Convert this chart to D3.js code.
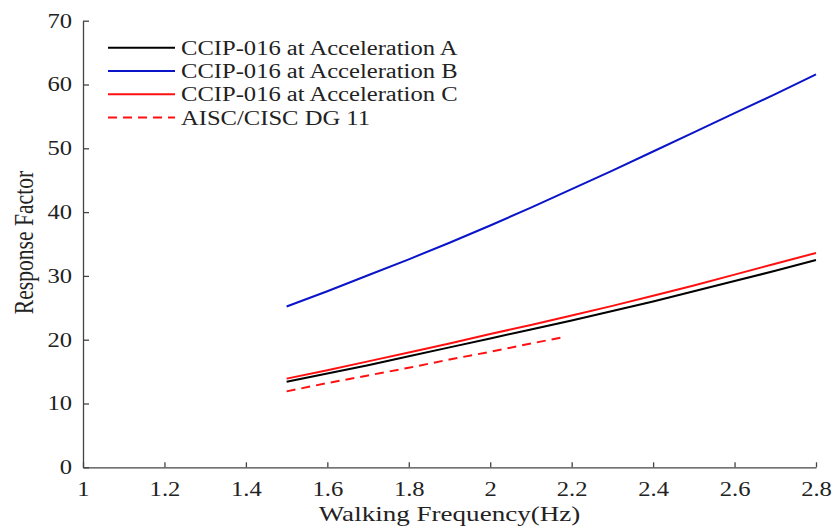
<!DOCTYPE html>
<html>
<head>
<meta charset="utf-8">
<script src="https://cdn.jsdelivr.net/npm/d3@7"></script>
<style>
  html, body { margin: 0; padding: 0; background: #fff; }
  svg { display: block; }
  text { font-family: "Liberation Serif", "Times New Roman", serif; fill: #222; }
</style>
</head>
<body>
<svg id="chart" width="835" height="527"></svg>
<script>
// ---- data ----
const freqs = [1.5, 1.6, 1.7, 1.8, 1.9, 2.0, 2.1, 2.2, 2.3, 2.4, 2.5, 2.6, 2.7, 2.8];
const accelA = [13.4, 14.7, 16.0, 17.4, 18.8, 20.2, 21.6, 23.0, 24.5, 26.0, 27.6, 29.2, 30.8, 32.5];
const accelB = [25.2, 27.6, 30.1, 32.6, 35.2, 37.9, 40.7, 43.6, 46.5, 49.5, 52.5, 55.5, 58.5, 61.6];
const accelC = [13.9, 15.2, 16.6, 18.0, 19.4, 20.9, 22.3, 23.8, 25.3, 26.9, 28.5, 30.2, 31.9, 33.6];
const dgFreqs = [1.5, 1.6, 1.7, 1.8, 1.9, 2.0, 2.1, 2.18];
const dg11 = [11.9, 13.2, 14.4, 15.6, 16.9, 18.1, 19.4, 20.4];
const seriesNames = ["CCIP-016 at Acceleration A", "CCIP-016 at Acceleration B", "CCIP-016 at Acceleration C", "AISC/CISC DG 11"];
const xTicks = [1, 1.2, 1.4, 1.6, 1.8, 2, 2.2, 2.4, 2.6, 2.8];
const yTicks = [0, 10, 20, 30, 40, 50, 60, 70];
const xTitle = "Walking Frequency(Hz)";
const yTitle = "Response Factor";

// ---- drawing ----
const svg = d3.select("#chart");
const x = d3.scaleLinear().domain([1, 2.8]).range([83, 816]);
const y = d3.scaleLinear().domain([0, 70]).range([467.3, 20.7]);
const sx = 1.23; // horizontal stretch of the text in the reference

const series = [
  { name: seriesNames[0], xs: freqs, ys: accelA, color: "#000000", dash: null },
  { name: seriesNames[1], xs: freqs, ys: accelB, color: "#0a14c8", dash: null },
  { name: seriesNames[2], xs: freqs, ys: accelC, color: "#ff1010", dash: null },
  { name: seriesNames[3], xs: dgFreqs, ys: dg11, color: "#ff1010", dash: "9,6" }
];

const axisColor = "#444";

const xAxis = svg.append("g")
  .attr("transform", `translate(0,${y(0)})`)
  .call(d3.axisBottom(x).tickValues(xTicks).tickFormat(d3.format("")).tickSizeInner(-5).tickSizeOuter(0).tickPadding(15));
const yAxis = svg.append("g")
  .attr("transform", `translate(${x(1)},0)`)
  .call(d3.axisLeft(y).tickValues(yTicks).tickSizeInner(-6).tickSizeOuter(0).tickPadding(11 / sx));

[xAxis, yAxis].forEach(g => {
  g.selectAll("path.domain").attr("stroke", axisColor).attr("stroke-width", 1.3);
  g.selectAll(".tick line").attr("stroke", axisColor).attr("stroke-width", 1.3);
  g.selectAll(".tick text").attr("font-size", 20).attr("fill", "#222")
    .attr("font-family", "'Liberation Serif', 'Times New Roman', serif")
    .attr("transform", `scale(${sx},1)`);
});

const line = d3.line().x(d => x(d[0])).y(d => y(d[1]));

series.forEach(s => {
  svg.append("path")
    .datum(s.xs.map((v, i) => [v, s.ys[i]]))
    .attr("fill", "none")
    .attr("stroke", s.color)
    .attr("stroke-width", 2)
    .attr("stroke-dasharray", s.dash)
    .attr("d", line);
});

// legend
const lg = svg.append("g");
series.forEach((s, i) => {
  const ly = 47.7 + i * 23.3;
  lg.append("line")
    .attr("x1", 108).attr("x2", 175)
    .attr("y1", ly).attr("y2", ly)
    .attr("stroke", s.color).attr("stroke-width", 2)
    .attr("stroke-dasharray", s.dash);
  lg.append("text")
    .attr("transform", `translate(181,${ly + 7}) scale(${sx},1)`)
    .attr("font-size", 20)
    .text(s.name);
});

// axis titles
svg.append("text")
  .attr("transform", `translate(${(x(1) + x(2.8)) / 2},521) scale(${sx},1)`)
  .attr("text-anchor", "middle")
  .attr("font-size", 22)
  .text(xTitle);

svg.append("text")
  .attr("transform", `translate(33,242.5) scale(${sx},1) rotate(-90)`)
  .attr("text-anchor", "middle")
  .attr("font-size", 21.6)
  .text(yTitle);
</script>
</body>
</html>
